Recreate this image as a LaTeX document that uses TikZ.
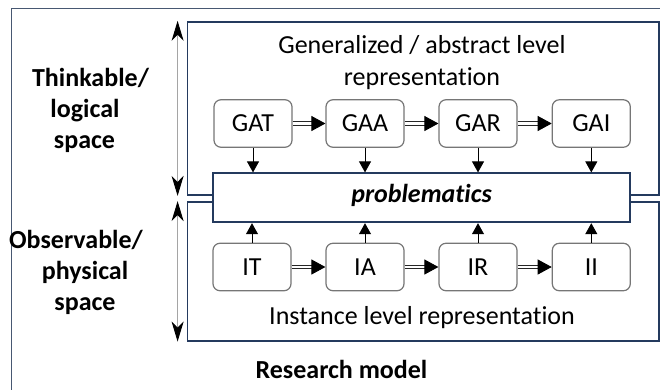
\documentclass[tikz,border=0pt]{standalone}
\usepackage{fontspec}
\setmainfont{Carlito}[Ligatures={NoCommon,NoContextual,NoRequired}, Contextuals=NoAlternate]
\usetikzlibrary{arrows.meta}
\definecolor{navy}{RGB}{36,58,94}
\definecolor{framec}{RGB}{72,88,114}
\definecolor{boxgray}{RGB}{118,118,118}
\definecolor{axisgray}{RGB}{165,165,165}
% keep "t" and "i" as separate glyphs
\newcommand{\tsep}{t\kern0pt i}
\begin{document}
\begin{tikzpicture}[x=1pt,y=-1pt,
  txt/.style={font=\fontsize{26}{31}\selectfont, inner sep=0pt},
  btxt/.style={font=\fontsize{26}{31}\selectfont\bfseries, inner sep=0pt},
  level/.style={draw=navy, line width=1.8pt, minimum width=471.5pt, inner sep=0pt},
  stage/.style={draw=boxgray, line width=1.2pt, rounded corners=7pt, fill=white,
    minimum width=78pt, minimum height=47.5pt, inner sep=0pt,
    text height=16pt, text depth=0pt, font=\fontsize{26}{31}\selectfont},
  rail/.style={draw=black!85, line width=0.9pt, double=white, double distance=2.6pt,
    shorten >=13pt},
  railtip/.style={draw=black, line width=0.9pt, shorten <=20pt,
    -{Triangle[length=14pt,width=15pt]}},
  feed/.style={draw=black, line width=0.9pt, -{Triangle[length=11pt,width=12pt]}},
  span/.style={draw=axisgray, line width=1pt,
    {Stealth[length=20pt,width=12pt,inset=6pt,color=black]}-{Stealth[length=20pt,width=12pt,inset=6pt,color=black]}},
]
\path[use as bounding box] (0,0) rectangle (660,389);

% outer frame, running past the right and lower edges
\begin{scope}
  \clip (0,0) rectangle (660,389);
  \draw[framec, line width=1.3pt] (11.5,8.3) rectangle (720,440);
\end{scope}

% the two representation levels
\node[level, minimum height=173.3pt] (gen)  at (423.25,108.35) {};
\node[level, minimum height=138.7pt] (inst) at (423.25,271.35) {};

% shared problematics bar
\node[draw=navy, line width=1.8pt, fill=white, minimum width=417.4pt, minimum height=49pt,
      inner sep=0pt, text height=17pt, text depth=8.6pt,
      font=\fontsize{26}{31}\selectfont\bfseries\itshape] (prob) at (421.5,197.8) {problema\tsep cs};

% level captions
\node[txt, anchor=base] (gencap1) at (422,53) {Generalized / abstract level};
\node[txt, anchor=base] (gencap2) at (422,85) {representa\tsep on};
\node[txt, anchor=base] (instcap) at (422,324) {Instance level representa\tsep on};

% generalized stages
\node[stage] (GAT) at (253,123.5) {GAT};
\node[stage] (GAA) at (365,123.5) {GAA};
\node[stage] (GAR) at (478,123.5) {GAR};
\node[stage] (GAI) at (591.3,123.5) {GAI};

% instance stages
\node[stage] (IT) at (252,267) {IT};
\node[stage] (IA) at (365,267) {IA};
\node[stage] (IR) at (478,267) {IR};
\node[stage] (II) at (591.3,267) {II};

% sequence arrows: double shaft with a solid head
\foreach \a/\b in {GAT/GAA,GAA/GAR,GAR/GAI,IT/IA,IA/IR,IR/II}{
  \draw[rail] (\a) -- (\b);
  \draw[railtip] (\a) -- (\b);
}

% feeds into the problematics bar
\foreach \s in {GAT,GAA,GAR,GAI}
  \draw[feed] (\s.south) -- (\s.south |- prob.north);
\foreach \s in {IT,IA,IR,II}
  \draw[feed] (\s.north) -- (\s.north |- prob.south);

% space extents on the left
\draw[span] ([xshift=-9pt]gen.north west) -- ([xshift=-9pt]gen.south west);
\draw[span] ([xshift=-9pt]inst.north west) -- ([xshift=-9pt]inst.south west);

% space names
\node[btxt, anchor=base] (th1) at (90.5,86) {Thinkable/};
\node[btxt, anchor=base] (th2) at (85,117) {logical};
\node[btxt, anchor=base] (th3) at (84.5,148) {space};
\node[btxt, anchor=base] (ob1) at (76,248) {Observable/};
\node[btxt, anchor=base] (ob2) at (85,279) {physical};
\node[btxt, anchor=base] (ob3) at (85,310) {space};

% caption
\node[btxt, anchor=base] (caption) at (341.5,378.3) {Research model};
\end{tikzpicture}
\end{document}
